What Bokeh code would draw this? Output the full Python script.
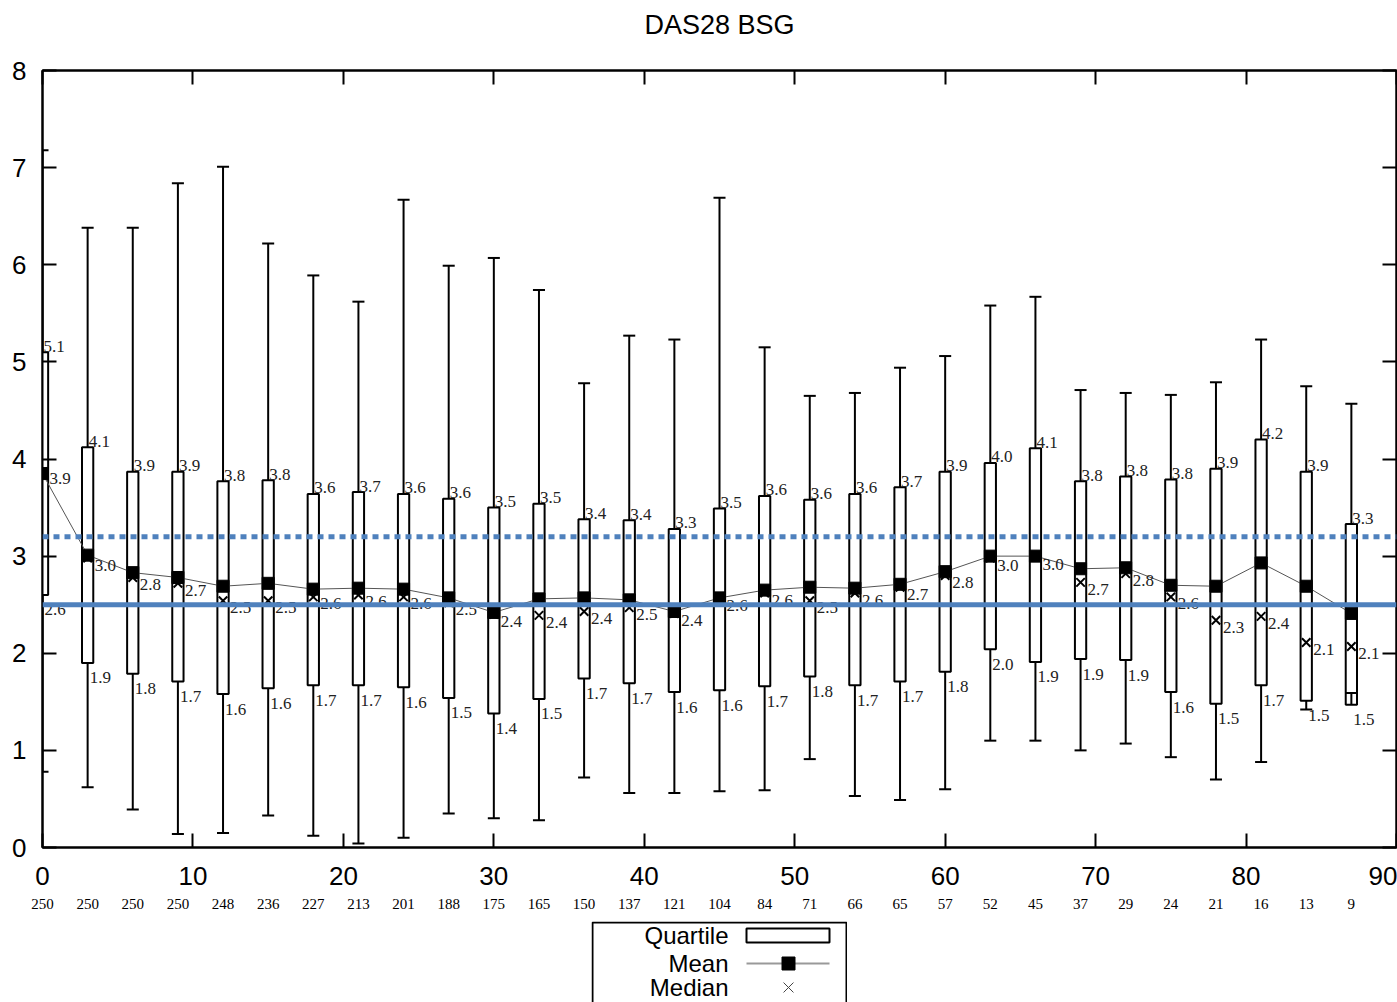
from bokeh.plotting import figure
from bokeh.models import Range1d, LinearAxis, FixedTicker, Span, Spacer
from bokeh.layouts import column, row
from bokeh.embed import file_html
from bokeh.resources import INLINE
from bokeh.core.properties import value

# ---------------- data ----------------
title_text = "DAS28 BSG"
visit = [0, 3, 6, 9, 12, 15, 18, 21, 24, 27, 30, 33, 36, 39, 42,
         45, 48, 51, 54, 57, 60, 63, 66, 69, 72, 75, 78, 81, 84, 87]
n_patients = [250, 250, 250, 250, 248, 236, 227, 213, 201, 188, 175, 165, 150, 137, 121,
              104, 84, 71, 66, 65, 57, 52, 45, 37, 29, 24, 21, 16, 13, 9]
whisker_min = [0.78, 0.62, 0.39, 0.14, 0.15, 0.33, 0.12, 0.04, 0.10, 0.35, 0.30, 0.28, 0.72, 0.56, 0.56,
               0.58, 0.59, 0.91, 0.53, 0.49, 0.60, 1.10, 1.10, 1.00, 1.07, 0.93, 0.70, 0.88, 1.42, 1.59]
q1 = [2.60, 1.90, 1.79, 1.71, 1.58, 1.64, 1.67, 1.67, 1.65, 1.54, 1.38, 1.53, 1.74, 1.69, 1.60,
      1.62, 1.66, 1.76, 1.67, 1.71, 1.81, 2.04, 1.91, 1.94, 1.93, 1.60, 1.48, 1.67, 1.51, 1.47]
median = [3.87, 2.98, 2.78, 2.72, 2.54, 2.54, 2.58, 2.60, 2.58, 2.52, 2.40, 2.39, 2.43, 2.47, 2.41,
          2.56, 2.62, 2.54, 2.62, 2.68, 2.80, 2.98, 2.99, 2.73, 2.82, 2.58, 2.34, 2.38, 2.11, 2.07]
mean = [3.85, 3.01, 2.83, 2.78, 2.69, 2.72, 2.66, 2.67, 2.66, 2.57, 2.42, 2.56, 2.57, 2.55, 2.43,
        2.57, 2.65, 2.68, 2.67, 2.71, 2.84, 3.00, 3.00, 2.87, 2.88, 2.70, 2.69, 2.93, 2.69, 2.41]
q3 = [5.10, 4.12, 3.87, 3.87, 3.77, 3.78, 3.64, 3.66, 3.64, 3.59, 3.50, 3.54, 3.38, 3.37, 3.28,
      3.49, 3.62, 3.58, 3.64, 3.71, 3.87, 3.96, 4.11, 3.77, 3.82, 3.79, 3.90, 4.20, 3.87, 3.33]
whisker_max = [7.18, 6.38, 6.38, 6.84, 7.01, 6.22, 5.89, 5.62, 6.67, 5.99, 6.07, 5.74, 4.78, 5.27, 5.23,
               6.69, 5.15, 4.65, 4.68, 4.94, 5.06, 5.58, 5.67, 4.71, 4.68, 4.66, 4.79, 5.23, 4.75, 4.57]
ref_low = 2.5
ref_high = 3.2
x_ticks = [0, 10, 20, 30, 40, 50, 60, 70, 80, 90]
y_ticks = [0, 1, 2, 3, 4, 5, 6, 7, 8]
legend_labels = ["Quartile", "Mean", "Median"]

# ---------------- style ----------------
BOX_W = 0.75
CAP_W = 0.8
SANS = "Liberation Sans"
SERIF = "Liberation Serif"
BLUE = "#4f81bd"

p = figure(width=1397, height=921, x_range=Range1d(0, 90), y_range=Range1d(0, 8),
           output_backend="svg", toolbar_location=None, title=None,
           x_axis_location=None, y_axis_location=None,
           min_border_left=42, min_border_right=1, min_border_top=70, min_border_bottom=74)
p.background_fill_color = "white"
p.border_fill_color = "white"
p.outline_line_color = "black"
p.outline_line_width = 2
for g in p.grid:
    g.visible = False


def style_axis(ax, labels=True, size="26px", font=SANS):
    ax.axis_line_color = "black"
    ax.axis_line_width = 2
    ax.major_tick_in = 14
    ax.major_tick_out = 0
    ax.major_tick_line_width = 2
    ax.major_tick_line_color = "black"
    ax.minor_tick_line_color = None
    ax.major_label_text_font = font
    ax.major_label_text_color = "black"
    ax.major_label_text_font_size = size
    if not labels:
        ticks = ax.ticker.ticks
        ax.major_label_overrides = {t: "" for t in ticks}
        ax.major_label_text_font_size = "1px"
        ax.major_label_standoff = 0


xb = LinearAxis(ticker=FixedTicker(ticks=x_ticks))
style_axis(xb)
xb.major_label_standoff = 19
p.add_layout(xb, "below")

xn = LinearAxis(ticker=FixedTicker(ticks=visit),
                major_label_overrides={v: str(n) for v, n in zip(visit, n_patients)})
style_axis(xn, size="15px", font=SERIF)
xn.axis_line_color = None
xn.major_tick_in = 0
xn.major_label_standoff = 11
p.add_layout(xn, "below")

yl = LinearAxis(ticker=FixedTicker(ticks=y_ticks))
style_axis(yl)
yl.major_label_standoff = 16
p.add_layout(yl, "left")

yr = LinearAxis(ticker=FixedTicker(ticks=y_ticks))
style_axis(yr, labels=False)
p.add_layout(yr, "right")

# top axis carries the chart title as its label
xt = LinearAxis(ticker=FixedTicker(ticks=x_ticks), axis_label=title_text)
style_axis(xt, labels=False)
xt.axis_label_text_font = SANS
xt.axis_label_text_font_size = "27px"
xt.axis_label_text_font_style = "normal"
xt.axis_label_text_color = "black"
xt.axis_label_standoff = 31
p.add_layout(xt, "above")

# boxes
p.quad(left=[v - BOX_W / 2 for v in visit], right=[v + BOX_W / 2 for v in visit],
       bottom=q1, top=q3, fill_color="white", line_color="black", line_width=2)
# whiskers
p.segment(x0=visit, x1=visit, y0=q3, y1=whisker_max, line_color="black", line_width=2)
p.segment(x0=visit, x1=visit, y0=q1, y1=whisker_min, line_color="black", line_width=2)
p.segment(x0=[v - CAP_W / 2 for v in visit], x1=[v + CAP_W / 2 for v in visit],
          y0=whisker_max, y1=whisker_max, line_color="black", line_width=2)
p.segment(x0=[v - CAP_W / 2 for v in visit], x1=[v + CAP_W / 2 for v in visit],
          y0=whisker_min, y1=whisker_min, line_color="black", line_width=2)

# medians, mean line and squares
p.scatter(visit, median, marker="x", size=12, line_color="black", line_width=2)
p.line(visit, mean, line_color="#555555", line_width=1)
p.scatter(visit, mean, marker="square", size=12, fill_color="black", line_color="black")

# value labels
lab_kw = dict(text_align="left", text_baseline="middle", text_font=value(SERIF),
              text_font_size="17px", text_color="#222222")
p.text(x=visit, y=q3, text=[f"{v:.1f}" for v in q3], x_offset=1, y_offset=-6, **lab_kw)
p.text(x=visit, y=median, text=[f"{v:.1f}" for v in median], x_offset=7, y_offset=7, **lab_kw)
p.text(x=visit, y=q1, text=[f"{v:.1f}" for v in q1], x_offset=2, y_offset=15, **lab_kw)

# reference lines
p.add_layout(Span(location=ref_low, dimension="width", line_color=BLUE, line_width=5))
p.add_layout(Span(location=ref_high, dimension="width", line_color=BLUE, line_width=5,
                  line_dash="6 5"))

# ---------------- legend (separate small figure) ----------------
LG_H = 81
lg = figure(width=256, height=LG_H, x_range=Range1d(0, 256), y_range=Range1d(LG_H, 0),
            output_backend="svg", toolbar_location=None,
            x_axis_location=None, y_axis_location=None, min_border=0)
lg.outline_line_color = None
for g in lg.grid:
    g.visible = False
lg.quad(left=[1], right=[255], top=[1], bottom=[200], fill_color=None,
        line_color="black", line_width=2)
row_y = [14, 42, 66]
lg.text(x=[137] * 3, y=row_y, text=legend_labels, text_align="right", text_baseline="middle",
        text_font=value(SANS), text_font_size="24px", text_color="black")
lg.quad(left=[155], right=[238], top=[row_y[0] - 7], bottom=[row_y[0] + 7],
        fill_color="white", line_color="black", line_width=2)
lg.segment(x0=[155], x1=[238], y0=[row_y[1]], y1=[row_y[1]], line_color="#999999", line_width=2)
lg.scatter([197], [row_y[1]], marker="square", size=13, fill_color="black", line_color="black")
lg.scatter([197], [row_y[2]], marker="x", size=14, line_color="#444444", line_width=1)

layout = column(p, row(Spacer(width=591, height=LG_H), lg))

open("out.html", "w").write(file_html(layout, INLINE))
